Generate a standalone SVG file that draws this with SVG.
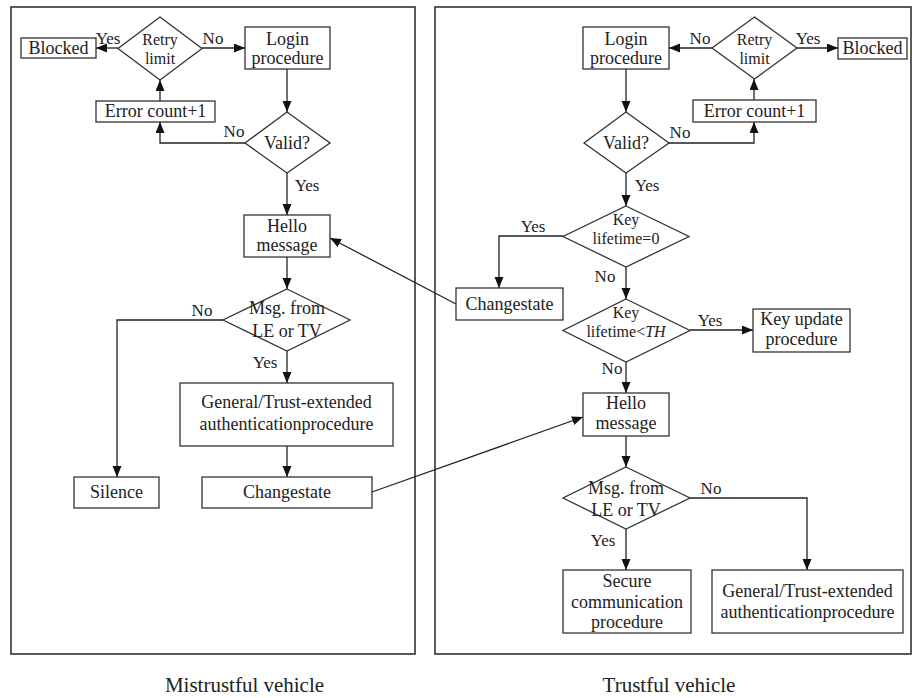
<svg xmlns="http://www.w3.org/2000/svg" width="912" height="698" viewBox="0 0 912 698">
<style>
.bg{fill:#fff}
.panel{fill:none;stroke:#333;stroke-width:1.6}
.box{fill:#fff;stroke:#333;stroke-width:1.3}
.t{font-family:"Liberation Serif","Times New Roman",serif;font-size:18px;fill:#222;text-anchor:middle}
.d{font-family:"Liberation Serif","Times New Roman",serif;font-size:16px;fill:#222;text-anchor:middle}
.l{font-family:"Liberation Serif","Times New Roman",serif;font-size:17px;fill:#222;text-anchor:middle}
.cap{font-family:"Liberation Serif","Times New Roman",serif;font-size:21px;fill:#222;text-anchor:middle}
.c{fill:none;stroke:#222;stroke-width:1.3;marker-end:url(#ah)}
</style>
<defs>
<marker id="ah" markerUnits="userSpaceOnUse" markerWidth="12" markerHeight="10" refX="11" refY="4.5" orient="auto">
<path d="M0,0 L11,4.5 L0,9 z" fill="#111"/>
</marker>
</defs>
<rect class="bg" x="0" y="0" width="912" height="698"/>
<g id="panels">
<rect class="panel" x="11" y="7" width="404" height="647"/>
<rect class="panel" x="435" y="7" width="476" height="647"/>
</g>
<g id="connectors">
<path class="c" d="M118,48 H96"/>
<path class="c" d="M202,48 H245"/>
<path class="c" d="M287,69 V112"/>
<path class="c" d="M245,143 H160 V122"/>
<path class="c" d="M160,101 V80"/>
<path class="c" d="M287,173 V215"/>
<path class="c" d="M287,257 V289"/>
<path class="c" d="M223,320 H117 V477"/>
<path class="c" d="M287,351 V383"/>
<path class="c" d="M287,446 V477"/>
<path class="c" d="M372,492 L583,417"/>
<path class="c" d="M456,304 L330,238"/>
<path class="c" d="M712,48 H669"/>
<path class="c" d="M797,48 H838"/>
<path class="c" d="M754,100 V79"/>
<path class="c" d="M669,143 H754 V122"/>
<path class="c" d="M626,69 V112"/>
<path class="c" d="M626,173 V206"/>
<path class="c" d="M563,236 H499 V288"/>
<path class="c" d="M626,267 V299"/>
<path class="c" d="M690,330 H753"/>
<path class="c" d="M626,362 V393"/>
<path class="c" d="M626,436 V467"/>
<path class="c" d="M690,498 H807 V570"/>
<path class="c" d="M626,529 V570"/>
</g>
<g id="edge-labels">
<text class="l" x="108" y="44">Yes</text>
<text class="l" x="213" y="44">No</text>
<text class="l" x="234" y="137">No</text>
<text class="l" x="307" y="191">Yes</text>
<text class="l" x="202" y="316">No</text>
<text class="l" x="265" y="368">Yes</text>
<text class="l" x="700" y="44">No</text>
<text class="l" x="808" y="44">Yes</text>
<text class="l" x="680" y="138">No</text>
<text class="l" x="647" y="191">Yes</text>
<text class="l" x="533" y="232">Yes</text>
<text class="l" x="605" y="282">No</text>
<text class="l" x="710" y="326">Yes</text>
<text class="l" x="612" y="374">No</text>
<text class="l" x="711" y="494">No</text>
<text class="l" x="603" y="546">Yes</text>
</g>
<g id="L-blocked"><rect class="box" x="21" y="38" width="75" height="20"/><text class="t" x="58.5" y="54">Blocked</text></g>
<g id="L-retry"><polygon class="box" points="160,17 202,48.5 160,80 118,48.5"/><text class="d" x="160" y="45">Retry</text><text class="d" x="160" y="64">limit</text></g>
<g id="L-login"><rect class="box" x="245" y="27" width="85" height="42"/><text class="t" x="287.5" y="45">Login</text><text class="t" x="287.5" y="64">procedure</text></g>
<g id="L-error"><rect class="box" x="96" y="101" width="119" height="21"/><text class="t" x="155.5" y="117">Error count+1</text></g>
<g id="L-valid"><polygon class="box" points="287,112 330,143 287,173 245,143"/><text class="t" x="287" y="149">Valid?</text></g>
<g id="L-hello"><rect class="box" x="244" y="215" width="86" height="42"/><text class="t" x="287" y="232">Hello</text><text class="t" x="287" y="251">message</text></g>
<g id="L-msg"><polygon class="box" points="287,289 350,320 287,351 223,320"/><text class="t" x="287" y="314">Msg. from</text><text class="t" x="287" y="337">LE or TV</text></g>
<g id="L-general"><rect class="box" x="180" y="383" width="213" height="63"/><text class="t" x="286.5" y="408">General/Trust-extended</text><text class="t" x="286.5" y="430">authenticationprocedure</text></g>
<g id="L-silence"><rect class="box" x="74" y="477" width="85" height="31"/><text class="t" x="116.5" y="498">Silence</text></g>
<g id="L-change"><rect class="box" x="202" y="477" width="170" height="31"/><text class="t" x="287" y="498">Changestate</text></g>
<g id="R-login"><rect class="box" x="583" y="27" width="86" height="42"/><text class="t" x="626" y="45">Login</text><text class="t" x="626" y="64">procedure</text></g>
<g id="R-retry"><polygon class="box" points="754.5,17 797,48 754.5,79 712,48"/><text class="d" x="754.5" y="45">Retry</text><text class="d" x="754.5" y="64">limit</text></g>
<g id="R-blocked"><rect class="box" x="838" y="38" width="69" height="21"/><text class="t" x="872.5" y="54">Blocked</text></g>
<g id="R-error"><rect class="box" x="693" y="100" width="123" height="22"/><text class="t" x="754.5" y="117">Error count+1</text></g>
<g id="R-valid"><polygon class="box" points="626,112 669,143 626,173 584,143"/><text class="t" x="626" y="149">Valid?</text></g>
<g id="R-key0"><polygon class="box" points="626,206 689,236.5 626,267 563,236.5"/><text class="d" x="626" y="225">Key</text><text class="d" x="626" y="244">lifetime=0</text></g>
<g id="R-change"><rect class="box" x="456" y="288" width="107" height="32"/><text class="t" x="509.5" y="310">Changestate</text></g>
<g id="R-keyth"><polygon class="box" points="626,299 690,330.5 626,362 563,330.5"/><text class="d" x="626" y="318">Key</text><text class="d" x="626" y="337">lifetime&lt;<tspan font-style="italic">TH</tspan></text></g>
<g id="R-keyupdate"><rect class="box" x="753" y="309" width="97" height="43"/><text class="t" x="801.5" y="325">Key update</text><text class="t" x="801.5" y="345">procedure</text></g>
<g id="R-hello"><rect class="box" x="583" y="393" width="86" height="43"/><text class="t" x="626" y="409">Hello</text><text class="t" x="626" y="429">message</text></g>
<g id="R-msg"><polygon class="box" points="626,467 690,498 626,529 563,498"/><text class="t" x="626" y="494">Msg. from</text><text class="t" x="626" y="516">LE or TV</text></g>
<g id="R-secure"><rect class="box" x="563" y="570" width="128" height="63"/><text class="t" x="627" y="587">Secure</text><text class="t" x="627" y="608">communication</text><text class="t" x="627" y="628">procedure</text></g>
<g id="R-general"><rect class="box" x="712" y="570" width="191" height="63"/><text class="t" x="807.5" y="597">General/Trust-extended</text><text class="t" x="807.5" y="618">authenticationprocedure</text></g>
<g id="captions">
<text class="cap" x="244.5" y="692">Mistrustful vehicle</text>
<text class="cap" x="669" y="692">Trustful vehicle</text>
</g>
</svg>
